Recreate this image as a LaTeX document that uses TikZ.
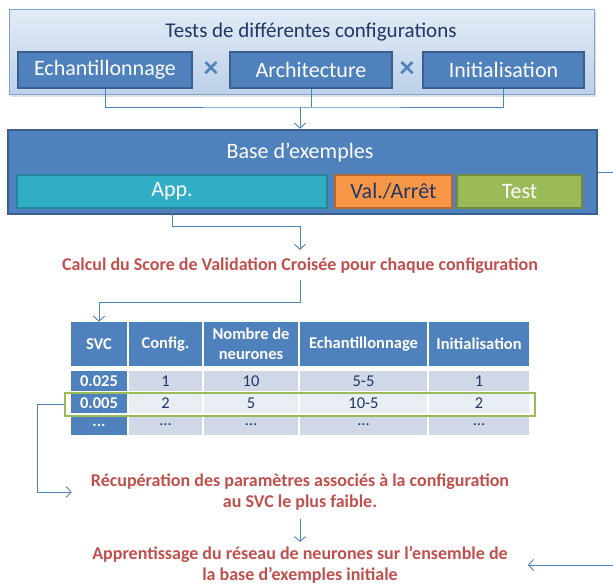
\documentclass[tikz,border=0pt]{standalone}
\usepackage{fontspec}
\setmainfont{Carlito}
\usetikzlibrary{positioning,arrows.meta,shadows}

\definecolor{cblue}{HTML}{4F81BD}
\definecolor{cdark}{HTML}{3A5F8F}
\definecolor{cnavy}{HTML}{1F3864}
\definecolor{clight}{HTML}{E2EBF6}
\definecolor{clightb}{HTML}{BCD0E8}
\definecolor{cframe}{HTML}{7FA3D3}
\definecolor{cteal}{HTML}{31AEC6}
\definecolor{cteald}{HTML}{26869A}
\definecolor{corange}{HTML}{F79646}
\definecolor{corand}{HTML}{B8672F}
\definecolor{cgreen}{HTML}{9BBB59}
\definecolor{cgreend}{HTML}{718B3D}
\definecolor{cred}{HTML}{C0504D}
\definecolor{crowa}{HTML}{D0D8E8}
\definecolor{crowb}{HTML}{E9EDF4}

\newcommand{\fsz}[2]{\fontsize{#1}{#2}\selectfont}

\begin{document}
\begin{tikzpicture}[
  x=1pt, y=-1pt,
  >={Straight Barb[length=5pt,width=11pt]},
  cfgbox/.style={draw=cframe, line width=1pt, top color=clight, bottom color=clightb,
    minimum width=585, minimum height=85, inner sep=0,
    drop shadow={opacity=0.25, shadow xshift=1pt, shadow yshift=-2pt}},
  optbox/.style={draw=cdark, line width=1.8pt, fill=cblue, text=white,
    font=\fsz{22}{26}, minimum height=36, inner sep=0},
  basebox/.style={draw=cdark, line width=2.5pt, fill=cblue,
    minimum width=589, minimum height=84, inner sep=0},
  partbox/.style={line width=2.2pt, font=\fsz{22}{26}, minimum height=33, inner sep=0},
  times/.style={text=cblue, font=\bfseries\fsz{30}{32}, inner sep=0},
  redtxt/.style={text=cred, font=\bfseries\fsz{18}{21.5}, align=center, inner sep=2pt},
  conn/.style={draw=cblue, line width=0.9pt},
  hcell/.style={fill=cblue, text=white, font=\bfseries\fsz{16.5}{20}, align=center,
    minimum height=44, inner sep=0},
  svc/.style={fill=cblue, text=white, font=\bfseries\fsz{16.5}{20},
    minimum width=56, minimum height=20, inner sep=0},
  cella/.style={fill=crowa, text=cnavy, font=\fsz{16.5}{20}, minimum height=20, inner sep=0},
  cellb/.style={fill=crowb, text=cnavy, font=\fsz{16.5}{20}, minimum height=20, inner sep=0},
  selbox/.style={draw=cgreen, line width=2pt, minimum width=470, minimum height=23, inner sep=0}
]
  \useasboundingbox (0,0) rectangle (613,585);

  % Configurations tested
  \node[cfgbox] (tests) at (302,52.5) {};
  \node[text=cnavy, font=\fsz{21}{24}] (title) at (311,32) {Tests de différentes configurations};
  \node[optbox, minimum width=174] (ech) at (105,70) {Echantillonnage};
  \node[optbox, minimum width=162] (archi) at (311,70) {Architecture};
  \node[optbox, minimum width=161] (init) at (503.5,70) {Initialisation};
  \node[times] (x1) at (211,70) {×};
  \node[times] (x2) at (407,70) {×};

  % Example base
  \node[basebox] (base) at (302.5,172) {};
  \node[text=white, font=\fsz{22}{26}] (basetitle) at (300,153) {Base d’exemples};
  \node[partbox, draw=cteald, fill=cteal, text=white, minimum width=310] (app) at (172,191.5) {App.};
  \node[partbox, draw=corand, fill=corange, text=cnavy, minimum width=117] (val) at (393.5,191.5) {Val./Arrêt};
  \node[partbox, draw=cgreend, fill=cgreen, text=white, minimum width=125] (test) at (519.5,191.5) {Test};

  \coordinate (j1) at (300,107);
  \draw[conn] (ech.south) |- (j1) -| (init.south);
  \draw[conn] (archi.south) -- (archi.south |- j1);
  \draw[conn, ->] (j1) -- (base.north -| j1);

  % Cross validation
  \node[redtxt] (calcul) at (300,266) {Calcul du Score de Validation Croisée pour chaque configuration};
  \coordinate (j2) at (300,226);
  \draw[conn] (app.south) |- (j2);
  \draw[conn, ->, shorten >=6pt] (j2) -- (calcul.north);

  % Table
  \node[hcell, minimum width=56] (h1) at (99,344) {SVC};
  \node[hcell, minimum width=73] (h2) at (165.5,344) {Config.};
  \node[hcell, minimum width=94] (h3) at (251,344) {Nombre de\\neurones};
  \node[hcell, minimum width=127] (h4) at (363.5,344) {Echantillonnage};
  \node[hcell, minimum width=100] (h5) at (479,344) {Initialisation};
  \node[svc] (r1c1) at (99,381) {0.025};
  \node[svc] (r2c1) at (99,403) {0.005};
  \node[svc] (r3c1) at (99,425) {...};
  \foreach \x/\w/\a/\b/\n in {165.5/73/1/2/2, 251/94/10/5/3, 363.5/127/5-5/10-5/4, 479/100/1/2/5} {
    \node[cella, minimum width=\w] (r1c\n) at (\x,381) {\a};
    \node[cellb, minimum width=\w] (r2c\n) at (\x,403) {\b};
    \node[cella, minimum width=\w] (r3c\n) at (\x,425) {...};
  }
  \node[selbox] (sel) at (300,404.5) {};

  \coordinate (j3) at (300,302);
  \draw[conn, ->, shorten <=4pt] (calcul.south) -- (j3) -| (h1.north);

  % Best configuration
  \node[redtxt] (recup) at (300,492) {Récupération des paramètres associés à la configuration\\au SVC le plus faible.};
  \node[redtxt] (appr) at (300,565) {Apprentissage du réseau de neurones sur l’ensemble de\\la base d’exemples initiale};

  \coordinate (k1) at (37,404.5);
  \draw[conn, ->, shorten >=17pt] (sel.west) -- (k1) |- (recup.west);
  \draw[conn, ->, shorten <=6pt, shorten >=2pt] (recup.south) -- (appr.north);

  \begin{scope}
    \clip (0,0) rectangle (613,585);
    \draw[conn, ->, shorten >=18pt] (base.east) -- ++(40,0) |- (appr.east);
  \end{scope}
\end{tikzpicture}
\end{document}
